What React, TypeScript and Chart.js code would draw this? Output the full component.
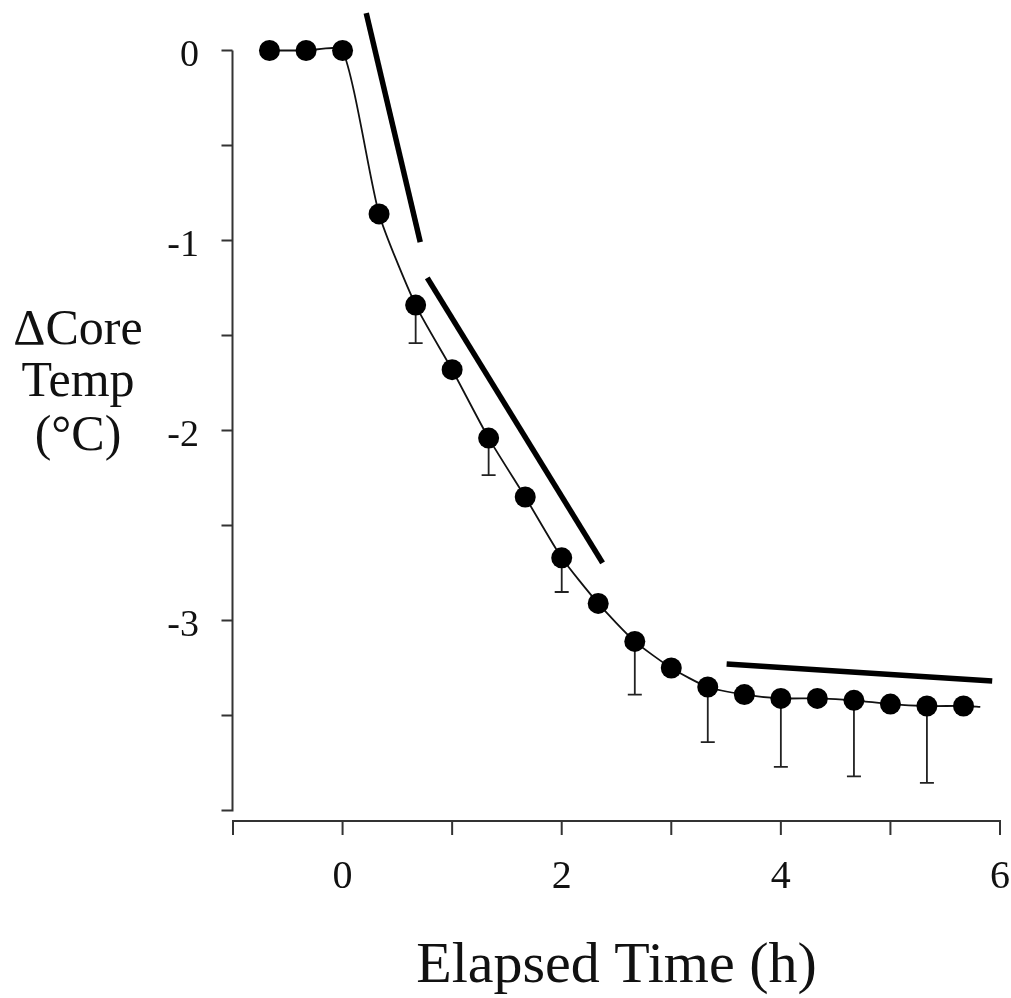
import React, { useEffect, useRef } from 'react';
import { Chart, registerables } from 'chart.js';

Chart.register(...registerables);

// ---- data ----
const timeH = [-0.667, -0.333, 0, 0.333, 0.667, 1, 1.333, 1.667, 2, 2.333, 2.667, 3, 3.333, 3.667, 4, 4.333, 4.667, 5, 5.333, 5.667];
const coreTemp = [0, 0, 0, -0.86, -1.34, -1.68, -2.04, -2.35, -2.67, -2.91, -3.11, -3.25, -3.35, -3.39, -3.41, -3.41, -3.42, -3.44, -3.45, -3.45];
const errorSD = [null, null, null, null, 0.2, null, 0.195, null, 0.18, null, 0.28, null, 0.29, null, 0.36, null, 0.4, null, 0.405, null];
// fitted curve continues a little past the last mean
const curveTailX = [5.82];
const curveTailY = [-3.455];

// thick rate lines
const slope1X = [0.216, 0.709];
const slope1Y = [0.197, -1.008];
const slope2X = [0.773, 2.373];
const slope2Y = [-1.197, -2.697];
const slope3X = [3.505, 5.929];
const slope3Y = [-3.229, -3.318];

const xTicks = [-1, 0, 1, 2, 3, 4, 5, 6];
const xTickLabels = ['', '0', '', '2', '', '4', '', '6'];
const yTicks = [0, -0.5, -1, -1.5, -2, -2.5, -3, -3.5, -4];
const yTickLabels = ['0', '', '-1', '', '-2', '', '-3', '', ''];

const xTitle = 'Elapsed Time (h)';
const yTitleLines = ['\u0394Core', 'Temp', '(\u00B0C)'];

const FONT = "'Liberation Serif', 'DejaVu Serif', serif";
const INK = '#111111';
const AXIS = '#333333';

const pairs = (xs: number[], ys: number[]) => xs.map((x, i) => ({ x, y: ys[i] }));

const axesPlugin = {
  id: 'customAxes',
  beforeDatasetsDraw(chart: any) {
    const { ctx, chartArea, scales } = chart;
    const xs = scales.x;
    const ys = scales.y;
    ctx.save();
    ctx.strokeStyle = AXIS;
    ctx.lineWidth = 2;
    ctx.lineCap = 'butt';
    // y axis
    const ax = chartArea.left - 0.5;
    ctx.beginPath();
    ctx.moveTo(ax, ys.getPixelForValue(yTicks[0]));
    ctx.lineTo(ax, ys.getPixelForValue(yTicks[yTicks.length - 1]) + 1);
    yTicks.forEach((v) => {
      const py = ys.getPixelForValue(v);
      ctx.moveTo(ax - 11, py);
      ctx.lineTo(ax, py);
    });
    ctx.stroke();
    // x axis (offset below the plot)
    const ay = chartArea.bottom + 10.5;
    ctx.beginPath();
    ctx.moveTo(xs.getPixelForValue(xTicks[0]) - 1, ay);
    ctx.lineTo(xs.getPixelForValue(xTicks[xTicks.length - 1]) + 1, ay);
    xTicks.forEach((v) => {
      const px = xs.getPixelForValue(v);
      ctx.moveTo(px, ay);
      ctx.lineTo(px, ay + 14);
    });
    ctx.stroke();

    // error bars (drawn under the points)
    ctx.strokeStyle = '#222222';
    ctx.lineWidth = 1.8;
    ctx.beginPath();
    timeH.forEach((t, i) => {
      const e = errorSD[i];
      if (e == null) return;
      const px = xs.getPixelForValue(t);
      const py0 = ys.getPixelForValue(coreTemp[i]);
      const py1 = ys.getPixelForValue(coreTemp[i] - e);
      ctx.moveTo(px, py0);
      ctx.lineTo(px, py1);
      ctx.moveTo(px - 7, py1);
      ctx.lineTo(px + 7, py1);
    });
    ctx.stroke();

    // y axis title (horizontal, three lines)
    ctx.fillStyle = INK;
    ctx.font = `50px ${FONT}`;
    ctx.textAlign = 'center';
    ctx.textBaseline = 'alphabetic';
    const baselines = [344, 396, 450];
    yTitleLines.forEach((s, i) => ctx.fillText(s, 78, baselines[i]));
    ctx.restore();
  },
};

export default function App() {
  const ref = useRef<HTMLCanvasElement | null>(null);
  useEffect(() => {
    if (!ref.current) return;
    const chart = new Chart(ref.current, {
      type: 'line',
      data: {
        datasets: [
          {
            data: [...pairs(timeH, coreTemp), ...pairs(curveTailX, curveTailY)],
            borderColor: INK,
            borderWidth: 1.8,
            backgroundColor: INK,
            pointBackgroundColor: '#000000',
            pointBorderWidth: 0,
            pointRadius: (c: any) => (c.dataIndex < coreTemp.length ? 10.5 : 0),
            tension: 0.2,
            clip: false,
            order: 0,
          },
          {
            data: pairs(slope1X, slope1Y),
            borderColor: '#000000',
            borderWidth: 5.5,
            pointRadius: 0,
            clip: false,
            order: 1,
          },
          {
            data: pairs(slope2X, slope2Y),
            borderColor: '#000000',
            borderWidth: 5.5,
            pointRadius: 0,
            clip: false,
            order: 1,
          },
          {
            data: pairs(slope3X, slope3Y),
            borderColor: '#000000',
            borderWidth: 5.5,
            pointRadius: 0,
            clip: false,
            order: 1,
          },
        ],
      },
      options: {
        animation: false,
        responsive: true,
        maintainAspectRatio: false,
        layout: { padding: { left: 0, right: 11, top: 12.5, bottom: 0 } },
        plugins: { legend: { display: false }, tooltip: { enabled: false } },
        scales: {
          x: {
            type: 'linear',
            min: -1,
            max: 6,
            afterBuildTicks: (s: any) => {
              s.ticks = xTicks.map((v) => ({ value: v }));
            },
            afterFit: (s: any) => {
              s.height = 187.5;
              s.paddingLeft = 0;
              s.paddingRight = 0;
              s.paddingTop = 0;
              s.paddingBottom = 0;
            },
            grid: { display: false, drawTicks: false },
            border: { display: false },
            ticks: {
              autoSkip: false,
              maxRotation: 0,
              padding: 43,
              color: INK,
              font: { family: FONT, size: 40 },
              callback: (v: any) => {
                const i = xTicks.indexOf(Number(v));
                return i >= 0 ? xTickLabels[i] : '';
              },
            },
            title: {
              display: true,
              text: xTitle,
              color: INK,
              font: { family: FONT, size: 58, lineHeight: 0.75 },
              padding: { top: 0, bottom: 9 },
            },
          },
          y: {
            type: 'linear',
            min: -4,
            max: 0.2,
            afterBuildTicks: (s: any) => {
              s.ticks = yTicks.map((v) => ({ value: v }));
            },
            afterFit: (s: any) => {
              s.width = 233;
              s.paddingLeft = 0;
              s.paddingRight = 0;
              s.paddingTop = 0;
              s.paddingBottom = 0;
            },
            grid: { display: false, drawTicks: false },
            border: { display: false },
            ticks: {
              autoSkip: false,
              padding: 34,
              labelOffset: 6,
              color: INK,
              font: { family: FONT, size: 38 },
              callback: (v: any) => {
                const i = yTicks.indexOf(Number(v));
                return i >= 0 ? yTickLabels[i] : '';
              },
            },
          },
        },
      },
      plugins: [axesPlugin],
    } as any);
    return () => chart.destroy();
  }, []);

  return (
    <div style={{ position: 'absolute', left: 0, top: 0, width: 1011, height: 998, background: '#ffffff' }}>
      <canvas ref={ref} />
    </div>
  );
}
